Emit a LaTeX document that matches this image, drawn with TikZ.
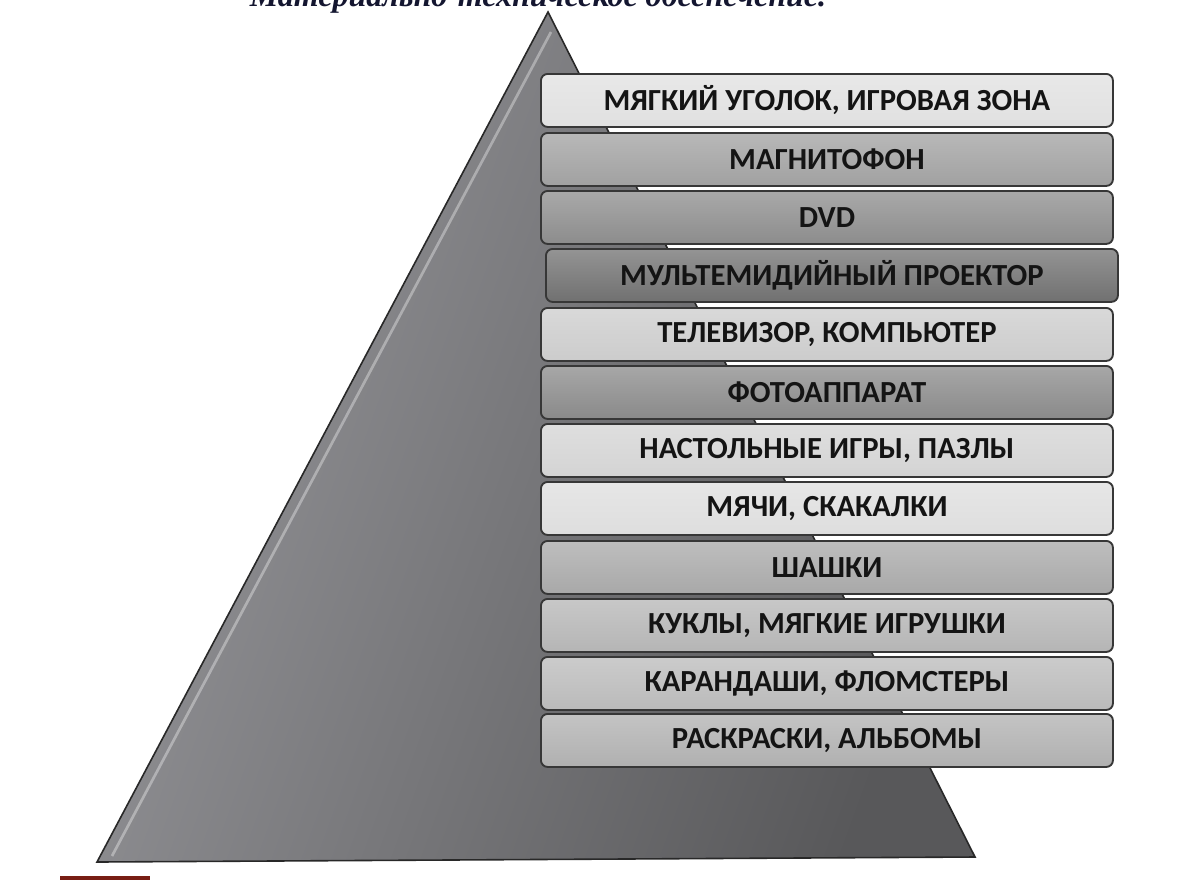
\documentclass[tikz,border=0pt]{standalone}
\usepackage{fontspec}
\setmainfont{Liberation Serif}
\newfontfamily\barfont{Carlito}
\usepackage{tikz}

\definecolor{titleink}{RGB}{20,22,48}
\definecolor{pyrlight}{RGB}{150,150,154}
\definecolor{pyrdark}{RGB}{88,88,90}
\definecolor{pyrline}{RGB}{40,40,40}
\definecolor{barline}{RGB}{55,55,55}
\definecolor{bartext}{RGB}{20,20,20}

\begin{document}
\begin{tikzpicture}[x=0.75pt,y=0.75pt,yscale=-1,xscale=1,
  bar/.style={draw=barline, line width=1.4pt, rounded corners=5pt,
    top color=black!#1!white!75, bottom color=black!#1,
    minimum width=429pt, minimum height=39.75pt, inner sep=0pt,
    anchor=north west, text=bartext,
    font=\barfont\bfseries\fontsize{23}{27}\selectfont},
  bar/.default=30]
\path[use as bounding box] (0,0) rectangle (1194,882);
\clip (0,0) rectangle (1194,882);

% Title
\node (title) [anchor=base, inner sep=0pt, text=titleink,
  font=\bfseries\itshape\fontsize{24}{28}\selectfont] at (538,6)
  {Материально-техническое обеспечение.};

% Pyramid
\draw [draw=pyrline, line width=1.2pt, left color=pyrlight, right color=pyrdark,
  shading angle=70] (548,12) -- (975,857) -- (97,862) -- cycle ;
\draw [white, opacity=0.35, line width=2pt] (551,32) -- (112,856) ;

% Bars
\node (b1) [bar=12] at (540,73) {МЯГКИЙ УГОЛОК, ИГРОВАЯ ЗОНА};
\node (b2) [bar=37] at (540,132) {МАГНИТОФОН};
\node (b3) [bar=45] at (540,190) {DVD};
\node (b4) [bar=56] at (545,248) {МУЛЬТЕМИДИЙНЫЙ ПРОЕКТОР};
\node (b5) [bar=20] at (540,307) {ТЕЛЕВИЗОР, КОМПЬЮТЕР};
\node (b6) [bar=46] at (540,365) {ФОТОАППАРАТ};
\node (b7) [bar=17] at (540,423) {НАСТОЛЬНЫЕ ИГРЫ, ПАЗЛЫ};
\node (b8) [bar=13] at (540,481) {МЯЧИ, СКАКАЛКИ};
\node (b9) [bar=34] at (540,540) {ШАШКИ};
\node (b10) [bar=29] at (540,598) {КУКЛЫ, МЯГКИЕ ИГРУШКИ};
\node (b11) [bar=27] at (540,656) {КАРАНДАШИ, ФЛОМСТЕРЫ};
\node (b12) [bar=31] at (540,713) {РАСКРАСКИ, АЛЬБОМЫ};

% Scan edge
\draw [line width=3pt, color={rgb,255:red,120;green,30;blue,20}] (60,878) -- (150,878) ;

\end{tikzpicture}
\end{document}
